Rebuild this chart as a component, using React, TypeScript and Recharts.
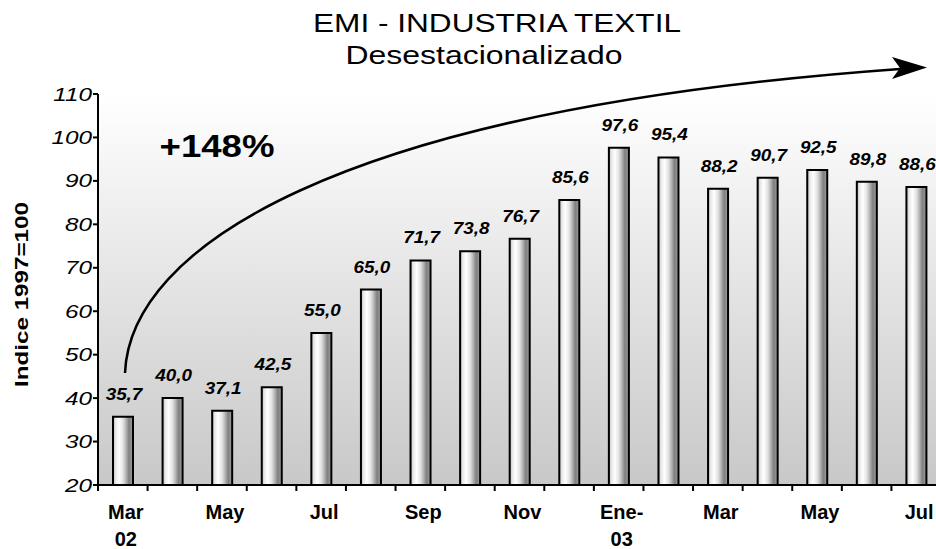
import React from "react";
import { BarChart, Bar, XAxis, YAxis, LabelList } from "recharts";

// months from Mar-02 to Jul-03 (seasonally adjusted index, 1997=100)
const months = [
  "Mar-02", "Abr-02", "May-02", "Jun-02", "Jul-02", "Ago-02", "Sep-02", "Oct-02", "Nov-02",
  "Dic-02", "Ene-03", "Feb-03", "Mar-03", "Abr-03", "May-03", "Jun-03", "Jul-03",
];
const indexValues = [35.7, 40.0, 37.1, 42.5, 55.0, 65.0, 71.7, 73.8, 76.7, 85.6, 97.6, 95.4, 88.2, 90.7, 92.5, 89.8, 88.6];
const tickLabels: string[][] = [
  ["Mar", "02"], [], ["May"], [], ["Jul"], [], ["Sep"], [], ["Nov"],
  [], ["Ene-", "03"], [], ["Mar"], [], ["May"], [], ["Jul"],
];
const yTicks = [20, 30, 40, 50, 60, 70, 80, 90, 100, 110];

const data = months.map((m, i) => ({ month: m, value: indexValues[i] }));

const FONT = "'Liberation Sans', Arial, sans-serif";
const W = 941;
const H = 549;
const MARGIN = { top: 94, right: 0, bottom: 0, left: 38 };
const Y_W = 60;
const X_H = 64;
const PLOT_L = MARGIN.left + Y_W;
const PLOT_R = W - MARGIN.right;
const PLOT_T = MARGIN.top;
const PLOT_B = H - X_H;
const BAND = (PLOT_R - PLOT_L) / months.length;

function MonthTick(props: any) {
  const { x, index } = props;
  const lines = tickLabels[index] ?? [];
  const left = x - BAND / 2;
  return (
    <g>
      <line x1={left} x2={left} y1={PLOT_B} y2={PLOT_B + 6} stroke="#000" strokeWidth={2} />
      {lines.map((t, i) => (
        <text
          key={i}
          x={x + 3}
          y={PLOT_B + 34 + i * 27}
          textAnchor="middle"
          fontFamily={FONT}
          fontWeight="bold"
          fontSize={20}
          fill="#000"
        >
          {t}
        </text>
      ))}
    </g>
  );
}

function ValueTick(props: any) {
  const { x, y, payload } = props;
  return (
    <text
      transform={`translate(${x + 1},${y + 6.5}) scale(1.35,1)`}
      textAnchor="end"
      fontFamily={FONT}
      fontStyle="italic"
      fontSize={18}
      fill="#000"
    >
      {payload.value}
    </text>
  );
}

function BarValue(props: any) {
  const { x, y, width, value } = props;
  const txt = Number(value).toFixed(1).replace(".", ",");
  return (
    <text
      transform={`translate(${x + width / 2 + 1},${y - 17}) scale(1.18,1)`}
      textAnchor="middle"
      fontFamily={FONT}
      fontStyle="italic"
      fontWeight="bold"
      fontSize={16}
      fill="#000"
    >
      {txt}
    </text>
  );
}

export default function App() {
  return (
    <div style={{ position: "absolute", left: 0, top: 0, width: 936, height: 549, overflow: "hidden", background: "#fff" }}>
      {/* gradient defs shared by the chart */}
      <svg width={0} height={0} style={{ position: "absolute" }}>
        <defs>
          <linearGradient id="barGrad" x1="0" y1="0" x2="1" y2="0">
            <stop offset="0%" stopColor="#b4b4b4" />
            <stop offset="12%" stopColor="#e6e6e6" />
            <stop offset="30%" stopColor="#ffffff" />
            <stop offset="50%" stopColor="#e2e2e2" />
            <stop offset="65%" stopColor="#b4b4b4" />
            <stop offset="80%" stopColor="#808080" />
            <stop offset="90%" stopColor="#8e8e8e" />
            <stop offset="100%" stopColor="#a8a8a8" />
          </linearGradient>
        </defs>
      </svg>

      {/* plot background */}
      <div
        style={{
          position: "absolute",
          left: PLOT_L,
          top: PLOT_T,
          width: PLOT_R - PLOT_L,
          height: PLOT_B - PLOT_T,
          background: "linear-gradient(#ffffff, #c8c8c8)",
        }}
      />

      <div style={{ position: "absolute", left: 0, top: 0 }}>
        <BarChart width={W} height={H} data={data} margin={MARGIN}>
          <XAxis
            dataKey="month"
            interval={0}
            height={X_H}
            tick={<MonthTick />}
            tickLine={false}
            axisLine={{ stroke: "#000", strokeWidth: 2 }}
          />
          <YAxis
            domain={[20, 110]}
            ticks={yTicks}
            width={Y_W}
            tickSize={5}
            tick={<ValueTick />}
            tickLine={{ stroke: "#000", strokeWidth: 2 }}
            axisLine={{ stroke: "#000", strokeWidth: 2 }}
          />
          <Bar dataKey="value" barSize={20} fill="url(#barGrad)" stroke="#000" strokeWidth={2} isAnimationActive={false}>
            <LabelList dataKey="value" content={<BarValue />} />
          </Bar>
        </BarChart>
      </div>

      {/* titles and annotations */}
      <svg width={936} height={549} style={{ position: "absolute", left: 0, top: 0, pointerEvents: "none" }}>
        <text x={497} y={32} textAnchor="middle" fontFamily={FONT} fontSize={26} textLength={368} lengthAdjust="spacingAndGlyphs">
          EMI - INDUSTRIA TEXTIL
        </text>
        <text x={484} y={64} textAnchor="middle" fontFamily={FONT} fontSize={26} textLength={277} lengthAdjust="spacingAndGlyphs">
          Desestacionalizado
        </text>
        <text
          transform="translate(28,294.5) rotate(-90)"
          textAnchor="middle"
          fontFamily={FONT}
          fontWeight="bold"
          fontSize={19}
          textLength={185}
          lengthAdjust="spacingAndGlyphs"
        >
          Indice 1997=100
        </text>
        <text x={217} y={157} textAnchor="middle" fontFamily={FONT} fontWeight="bold" fontSize={31} textLength={115} lengthAdjust="spacingAndGlyphs">
          +148%
        </text>
        <path d="M125,373 C130,250 330,110 900,69" fill="none" stroke="#000" strokeWidth={2.5} />
        <polygon points="927,67.5 892,57 900,68 892,79" fill="#000" />
      </svg>
    </div>
  );
}
